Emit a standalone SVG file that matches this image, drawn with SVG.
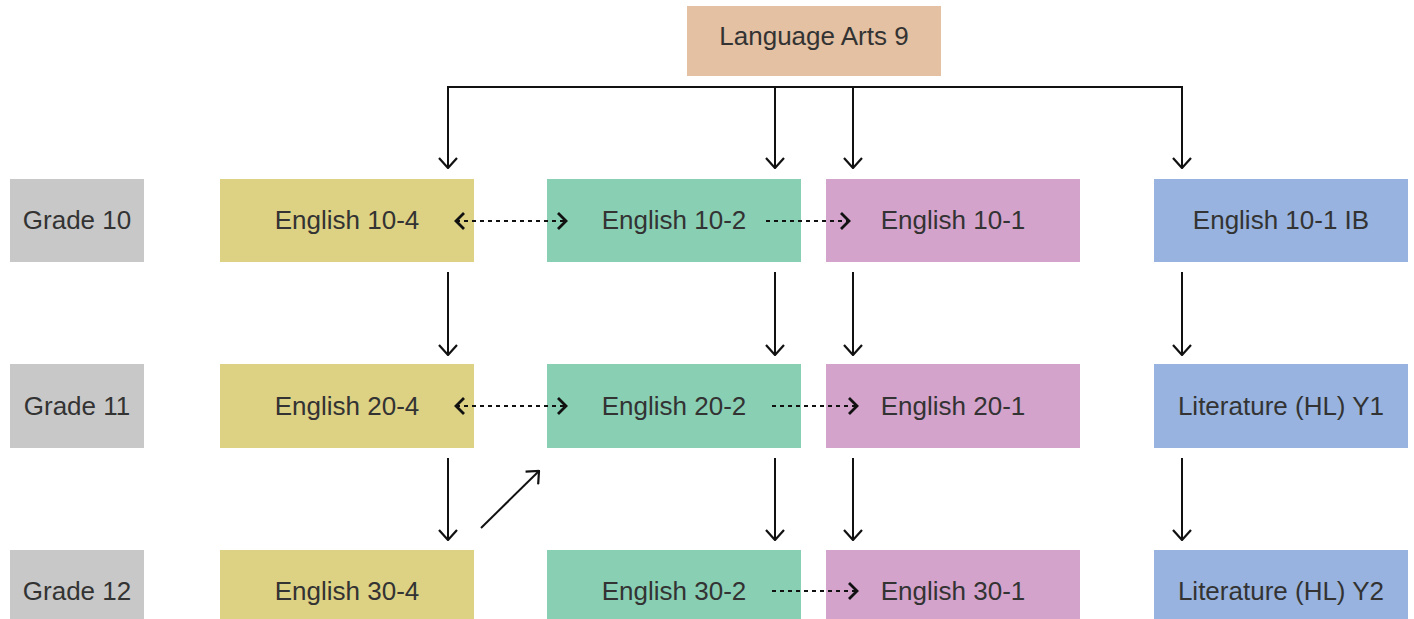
<svg xmlns="http://www.w3.org/2000/svg" width="1414" height="619" viewBox="0 0 1414 619">
<style>
text{font-family:"Liberation Sans",Arial,sans-serif;font-size:26px;fill:#333;text-anchor:middle;dominant-baseline:central}
.ln{stroke:#111;stroke-width:2;fill:none}
.dot{stroke:#111;stroke-width:2.2;fill:none;stroke-dasharray:4 4}
.g{fill:#c8c8c8}.y{fill:#ddd184}.gr{fill:#89cfb3}.p{fill:#d4a3cb}.b{fill:#98b3df}.t{fill:#e3c1a2}
</style>
<defs>
<marker id="ah" viewBox="0 0 12 20" refX="11" refY="10" markerWidth="12" markerHeight="20" markerUnits="userSpaceOnUse" orient="auto-start-reverse">
<path d="M1,1 L11,10 L1,19" fill="none" stroke="#111" stroke-width="2.2"/>
</marker>
<marker id="ad" viewBox="0 0 12 18" refX="10" refY="9" markerWidth="12" markerHeight="18" markerUnits="userSpaceOnUse" orient="auto-start-reverse">
<path d="M2,1 L10,9 L2,17" fill="none" stroke="#111" stroke-width="2.8"/>
</marker>
</defs>
<rect width="1414" height="619" fill="#fff"/>
<g id="la9"><rect class="t" x="687" y="6" width="254" height="70"/><text x="814" y="36">Language Arts 9</text></g>
<g id="grade10"><rect class="g" x="10" y="179" width="134" height="83"/><text x="77" y="220">Grade 10</text></g>
<g id="grade11"><rect class="g" x="10" y="364" width="134" height="84"/><text x="77" y="406">Grade 11</text></g>
<g id="grade12"><rect class="g" x="10" y="550" width="134" height="75"/><text x="77" y="591">Grade 12</text></g>
<g id="e104"><rect class="y" x="220" y="179" width="254" height="83"/><text x="347" y="220">English 10-4</text></g>
<g id="e204"><rect class="y" x="220" y="364" width="254" height="84"/><text x="347" y="406">English 20-4</text></g>
<g id="e304"><rect class="y" x="220" y="550" width="254" height="75"/><text x="347" y="591">English 30-4</text></g>
<g id="e102"><rect class="gr" x="547" y="179" width="254" height="83"/><text x="674" y="220">English 10-2</text></g>
<g id="e202"><rect class="gr" x="547" y="364" width="254" height="84"/><text x="674" y="406">English 20-2</text></g>
<g id="e302"><rect class="gr" x="547" y="550" width="254" height="75"/><text x="674" y="591">English 30-2</text></g>
<g id="e101"><rect class="p" x="826" y="179" width="254" height="83"/><text x="953" y="220">English 10-1</text></g>
<g id="e201"><rect class="p" x="826" y="364" width="254" height="84"/><text x="953" y="406">English 20-1</text></g>
<g id="e301"><rect class="p" x="826" y="550" width="254" height="75"/><text x="953" y="591">English 30-1</text></g>
<g id="e101ib"><rect class="b" x="1154" y="179" width="254" height="83"/><text x="1281" y="220">English 10-1 IB</text></g>
<g id="lit1"><rect class="b" x="1154" y="364" width="254" height="84"/><text x="1281" y="406">Literature (HL) Y1</text></g>
<g id="lit2"><rect class="b" x="1154" y="550" width="254" height="75"/><text x="1281" y="591">Literature (HL) Y2</text></g>
<g id="connectors">
<path class="ln" d="M448,87 H1182"/>
<path class="ln" d="M448,86 V168" marker-end="url(#ah)"/>
<path class="ln" d="M775,87 V168" marker-end="url(#ah)"/>
<path class="ln" d="M853,87 V168" marker-end="url(#ah)"/>
<path class="ln" d="M1182,86 V168" marker-end="url(#ah)"/>
<path class="ln" d="M448,272 V355" marker-end="url(#ah)"/>
<path class="ln" d="M775,272 V355" marker-end="url(#ah)"/>
<path class="ln" d="M853,272 V355" marker-end="url(#ah)"/>
<path class="ln" d="M1182,272 V355" marker-end="url(#ah)"/>
<path class="ln" d="M448,458 V540" marker-end="url(#ah)"/>
<path class="ln" d="M775,458 V540" marker-end="url(#ah)"/>
<path class="ln" d="M853,458 V540" marker-end="url(#ah)"/>
<path class="ln" d="M1182,458 V540" marker-end="url(#ah)"/>
<path class="ln" d="M481,528 L539,471" marker-end="url(#ah)"/>
<path class="dot" d="M456,221 H566" marker-start="url(#ad)" marker-end="url(#ad)"/>
<path class="dot" d="M766,221 H849" marker-end="url(#ad)"/>
<path class="dot" d="M456,406 H566" marker-start="url(#ad)" marker-end="url(#ad)"/>
<path class="dot" d="M772,406 H857" marker-end="url(#ad)"/>
<path class="dot" d="M772,591 H857" marker-end="url(#ad)"/>
</g>
</svg>
